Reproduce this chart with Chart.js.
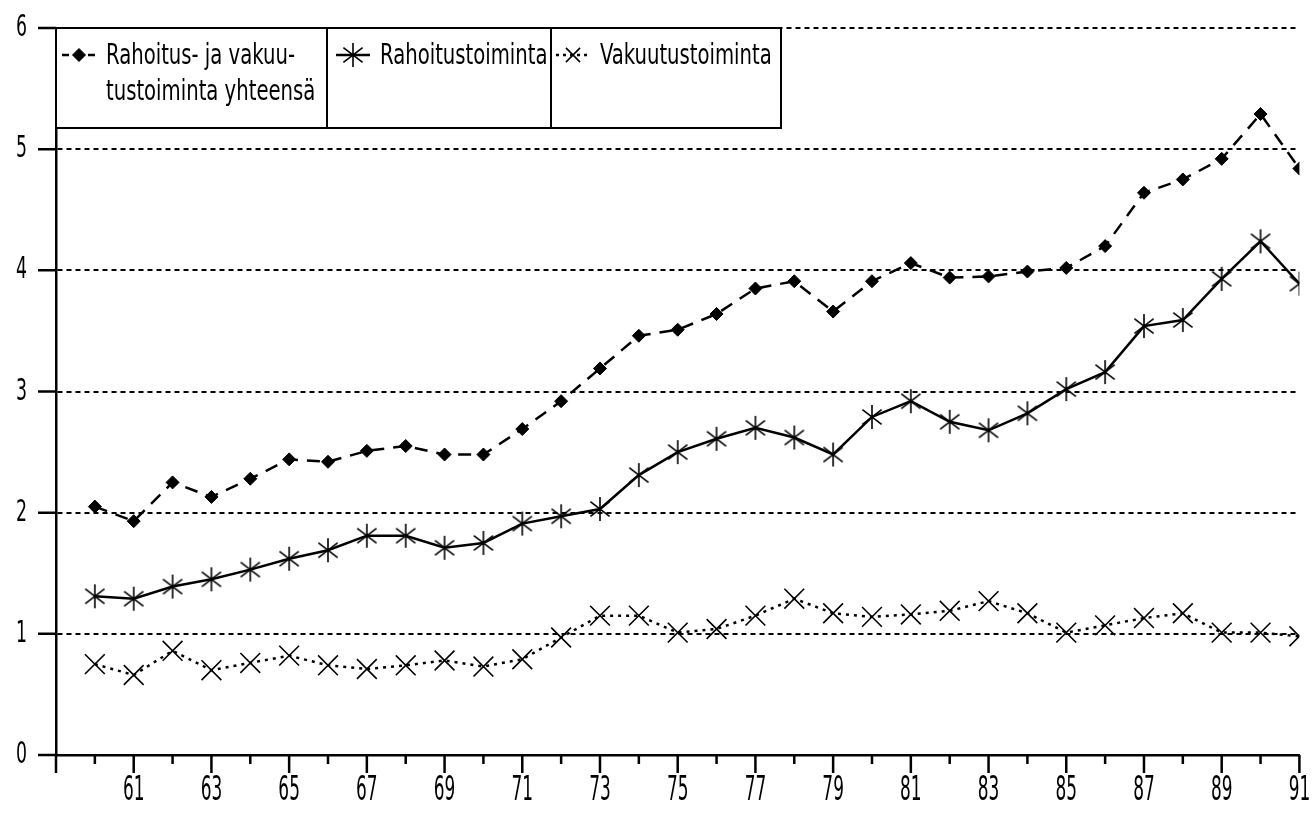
<!DOCTYPE html>
<html>
<head>
<meta charset="utf-8">
<title>Rahoitus- ja vakuutustoiminta</title>
<script src="https://cdn.jsdelivr.net/npm/chart.js@4.4.0/dist/chart.umd.min.js"></script>
<style>
  html, body { margin: 0; padding: 0; background: #fff; }
  canvas { display: block; }
</style>
</head>
<body>
<canvas id="chart" width="1315" height="815"></canvas>
<script>
// Years 1960-1991 (shown as two digits)
const years = [60, 61, 62, 63, 64, 65, 66, 67, 68, 69, 70, 71, 72, 73, 74, 75,
               76, 77, 78, 79, 80, 81, 82, 83, 84, 85, 86, 87, 88, 89, 90, 91];

// Rahoitus- ja vakuutustoiminta yhteensä
const totalSeries = [2.05, 1.93, 2.25, 2.13, 2.28, 2.44, 2.42, 2.51, 2.55, 2.48, 2.48, 2.69, 2.92, 3.19, 3.46, 3.51,
                     3.64, 3.85, 3.91, 3.66, 3.91, 4.06, 3.94, 3.95, 3.99, 4.02, 4.20, 4.64, 4.75, 4.92, 5.29, 4.84];
// Rahoitustoiminta
const financeSeries = [1.31, 1.29, 1.39, 1.45, 1.53, 1.62, 1.69, 1.81, 1.81, 1.71, 1.75, 1.91, 1.97, 2.03, 2.31, 2.50,
                       2.61, 2.70, 2.62, 2.48, 2.79, 2.92, 2.75, 2.68, 2.82, 3.02, 3.16, 3.54, 3.59, 3.93, 4.24, 3.89];
// Vakuutustoiminta
const insuranceSeries = [0.75, 0.66, 0.86, 0.70, 0.76, 0.82, 0.74, 0.71, 0.74, 0.78, 0.73, 0.79, 0.97, 1.15, 1.15, 1.01,
                         1.04, 1.15, 1.29, 1.17, 1.14, 1.16, 1.19, 1.27, 1.17, 1.01, 1.07, 1.13, 1.17, 1.01, 1.01, 0.98];

const yTicks = [0, 1, 2, 3, 4, 5, 6];
const xMin = 59, xMax = 91;

const seriesLabels = ['Rahoitus- ja vakuutustoiminta yhteensä', 'Rahoitustoiminta', 'Vakuutustoiminta'];
// legend text as it is broken in the boxes
const legendLines = [['Rahoitus- ja vakuu-', 'tustoiminta yhteensä'], ['Rahoitustoiminta'], ['Vakuutustoiminta']];

const FONT = "'DejaVu Sans Condensed', 'DejaVu Sans', sans-serif";

// the plotter lettering is very narrow, so squeeze text horizontally
function narrowText(ctx, text, x, y, squeeze) {
    ctx.fillText(text, x, y, ctx.measureText(text).width * squeeze);
}

// asterisk marker: vertical stroke plus an X
function makeAsterisk(size, lw) {
    const c = document.createElement('canvas');
    c.width = size; c.height = size;
    const g = c.getContext('2d');
    g.strokeStyle = '#000';
    g.lineWidth = lw;
    const m = size / 2, r = size / 2 - 1;
    g.beginPath();
    g.moveTo(m, m - r); g.lineTo(m, m + r);
    g.moveTo(m - r * 0.8, m - r * 0.62); g.lineTo(m + r * 0.8, m + r * 0.62);
    g.moveTo(m - r * 0.8, m + r * 0.62); g.lineTo(m + r * 0.8, m - r * 0.62);
    g.stroke();
    return c;
}
const asterisk = makeAsterisk(26, 1.6);

const toPoints = vals => vals.map((v, i) => ({ x: years[i], y: v }));
const xLabel = v => (v % 2 && v > xMin) ? String(v) : '';

// tick marks and labels: long ticks under odd years, short ones under even years
const axisDecor = {
    id: 'axisDecor',
    afterDraw(chart) {
        const { ctx, scales: { x, y } } = chart;
        const base = y.getPixelForValue(0);
        const left = x.getPixelForValue(xMin);
        ctx.save();
        ctx.strokeStyle = '#000';
        ctx.lineWidth = 2.5;
        ctx.beginPath();
        x.ticks.forEach(t => {
            const px = x.getPixelForValue(t.value);
            ctx.moveTo(px, base);
            ctx.lineTo(px, base + (t.value % 2 ? 18 : 9));
        });
        yTicks.forEach(v => {
            const py = y.getPixelForValue(v);
            ctx.moveTo(left - 18, py);
            ctx.lineTo(left, py);
        });
        ctx.stroke();

        ctx.fillStyle = '#000';
        ctx.font = '33px ' + FONT;
        ctx.textBaseline = 'middle';
        ctx.textAlign = 'center';
        x.ticks.forEach(t => {
            const s = xLabel(t.value);
            if (s) narrowText(ctx, s, x.getPixelForValue(t.value), 791, 0.57);
        });
        ctx.font = '31px ' + FONT;
        ctx.textAlign = 'right';
        yTicks.forEach(v => {
            narrowText(ctx, String(v), left - 29, y.getPixelForValue(v), 0.62);
        });
        ctx.restore();
    }
};

// legend drawn as a row of boxed cells sitting on the top gridline
const boxedLegend = {
    id: 'boxedLegend',
    afterDatasetsDraw(chart) {
        const { ctx, chartArea } = chart;
        const top = chart.scales.y.getPixelForValue(6);
        const bottom = 128;
        const edges = [chartArea.left, 327, 551, 781];
        const samples = [[62, 96], [336, 370], [556, 590]];
        ctx.save();
        ctx.fillStyle = '#fff';
        ctx.fillRect(edges[0], top, edges[3] - edges[0], bottom - top);
        ctx.strokeStyle = '#000';
        ctx.lineWidth = 2;
        ctx.strokeRect(edges[0], top, edges[3] - edges[0], bottom - top);
        ctx.beginPath();
        ctx.moveTo(edges[1], top); ctx.lineTo(edges[1], bottom);
        ctx.moveTo(edges[2], top); ctx.lineTo(edges[2], bottom);
        ctx.stroke();

        chart.data.datasets.forEach((ds, i) => {
            const [x0, x1] = samples[i];
            const yy = 55;
            ctx.strokeStyle = '#000';
            ctx.fillStyle = '#000';
            ctx.lineWidth = ds.borderWidth;
            ctx.setLineDash(i === 0 ? [7, 6] : (i === 2 ? [3, 4] : []));
            ctx.beginPath();
            ctx.moveTo(x0, yy); ctx.lineTo(x1, yy);
            ctx.stroke();
            ctx.setLineDash([]);
            ctx.lineWidth = ds.pointBorderWidth || 1;
            Chart.helpers.drawPoint(ctx, {
                pointStyle: ds.pointStyle,
                radius: i === 2 ? 10 : ds.pointRadius,
                borderWidth: ds.pointBorderWidth || 1,
                rotation: 0
            }, (x0 + x1) / 2, yy);

            ctx.font = '28px ' + FONT;
            ctx.textBaseline = 'middle';
            ctx.textAlign = 'left';
            legendLines[i].forEach((line, k) => {
                narrowText(ctx, line, x1 + 10, 57 + k * 36, 0.78);
            });
        });
        ctx.restore();
    }
};

const ctx = document.getElementById('chart').getContext('2d');
new Chart(ctx, {
    type: 'line',
    data: {
        datasets: [{
            label: seriesLabels[0],
            data: toPoints(totalSeries),
            borderColor: '#000',
            borderWidth: 2.5,
            borderDash: [13, 9],
            pointStyle: 'rectRot',
            pointRadius: 6.5,
            pointBackgroundColor: '#000',
            pointBorderColor: '#000',
            pointBorderWidth: 1,
            tension: 0
        }, {
            label: seriesLabels[1],
            data: toPoints(financeSeries),
            borderColor: '#000',
            borderWidth: 2.5,
            pointStyle: asterisk,
            pointRadius: 12,
            pointBorderWidth: 1.6,
            tension: 0
        }, {
            label: seriesLabels[2],
            data: toPoints(insuranceSeries),
            borderColor: '#000',
            borderWidth: 2.5,
            borderDash: [3, 5],
            pointStyle: 'crossRot',
            pointRadius: 14,
            pointBorderColor: '#000',
            pointBorderWidth: 1.6,
            tension: 0
        }]
    },
    options: {
        responsive: false,
        animation: false,
        events: [],
        layout: { padding: { top: 28, right: 14, left: 0, bottom: 0 } },
        plugins: {
            legend: { display: false },
            tooltip: { enabled: false }
        },
        scales: {
            x: {
                type: 'linear',
                min: xMin,
                max: xMax,
                afterFit: s => { s.height = 60; s.paddingLeft = 0; s.paddingRight = 0; },
                grid: { display: false, drawTicks: false },
                border: { display: true, color: '#000', width: 2.5 },
                ticks: { stepSize: 1, autoSkip: false, display: false }
            },
            y: {
                min: 0,
                max: 6,
                afterFit: s => { s.width = 56; s.paddingTop = 0; s.paddingBottom = 0; },
                grid: {
                    drawTicks: false,
                    color: c => c.tick.value === 0 ? 'rgba(0,0,0,0)' : '#000',
                    lineWidth: 2
                },
                border: { display: true, color: '#000', width: 2.5, dash: [5, 4] },
                ticks: { stepSize: 1, display: false }
            }
        }
    },
    plugins: [axisDecor, boxedLegend]
});
</script>
</body>
</html>
